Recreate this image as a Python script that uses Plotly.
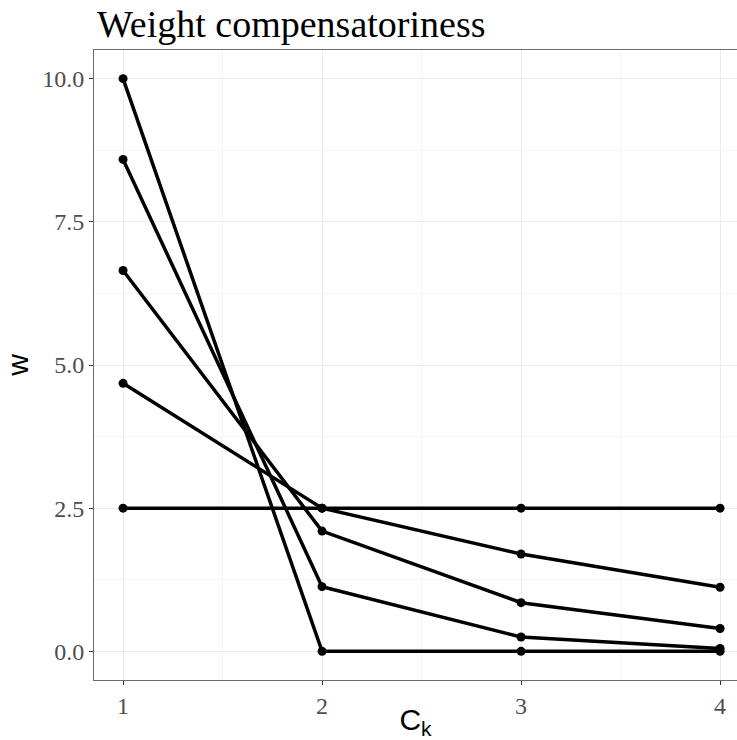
import plotly.graph_objects as go

ck = [1, 2, 3, 4]
w_series = [
    [2.5, 2.5, 2.5, 2.5],
    [4.68, 2.5, 1.70, 1.12],
    [6.65, 2.10, 0.85, 0.40],
    [8.59, 1.13, 0.25, 0.05],
    [10.0, 0.0, 0.0, 0.0],
]
x_ticks = [1, 2, 3, 4]
y_ticks = [0.0, 2.5, 5.0, 7.5, 10.0]
y_tick_labels = ["0.0", "2.5", "5.0", "7.5", "10.0"]

fig = go.Figure()
for ys in w_series:
    fig.add_trace(go.Scatter(
        x=ck, y=ys, mode="lines+markers",
        line=dict(color="black", width=3.5),
        marker=dict(color="black", size=9),
        showlegend=False, cliponaxis=False,
    ))

tickfont = dict(family="Liberation Serif", size=24, color="#4d4d4d")
fig.update_layout(
    width=737, height=740,
    margin=dict(l=94, r=0, t=50, b=60, autoexpand=False),
    paper_bgcolor="white", plot_bgcolor="white",
    title=dict(text="Weight compensatoriness", x=97/737, xanchor="left",
               xref="container", y=1 - 24/740, yref="container", yanchor="middle",
               pad=dict(l=0, r=0, t=0, b=0),
               font=dict(family="Liberation Serif", size=38, color="black")),
)
fig.update_xaxes(
    range=[0.854, 4.085], tickvals=x_ticks, ticktext=[str(v) for v in x_ticks],
    showline=True, linecolor="#6b6b6b", linewidth=1, mirror=True,
    ticks="outside", ticklen=4, tickcolor="#333333", tickwidth=1,
    showgrid=True, gridcolor="#ebebeb", gridwidth=1.2,
    minor=dict(dtick=0.5, tick0=0, showgrid=True, gridcolor="#f4f4f4", gridwidth=1),
    zeroline=False, tickfont=tickfont, automargin=False,
    title=dict(text="C<sub>k</sub>", standoff=0,
               font=dict(family="Liberation Sans", size=30, color="black")),
)
fig.update_yaxes(
    range=[-0.5, 10.5], tickvals=y_ticks, ticktext=y_tick_labels,
    showline=True, linecolor="#6b6b6b", linewidth=1, mirror=False,
    ticks="outside", ticklen=4, tickcolor="#333333", tickwidth=1,
    showgrid=True, gridcolor="#ebebeb", gridwidth=1.2,
    minor=dict(dtick=1.25, tick0=0, showgrid=True, gridcolor="#f4f4f4", gridwidth=1),
    zeroline=False, tickfont=tickfont, automargin=False,
    title=dict(text="w", standoff=4,
               font=dict(family="Liberation Sans", size=30, color="black")),
)
fig.write_html("out.html", config={"displayModeBar": False},
               post_script="document.body.style.margin='0';")
